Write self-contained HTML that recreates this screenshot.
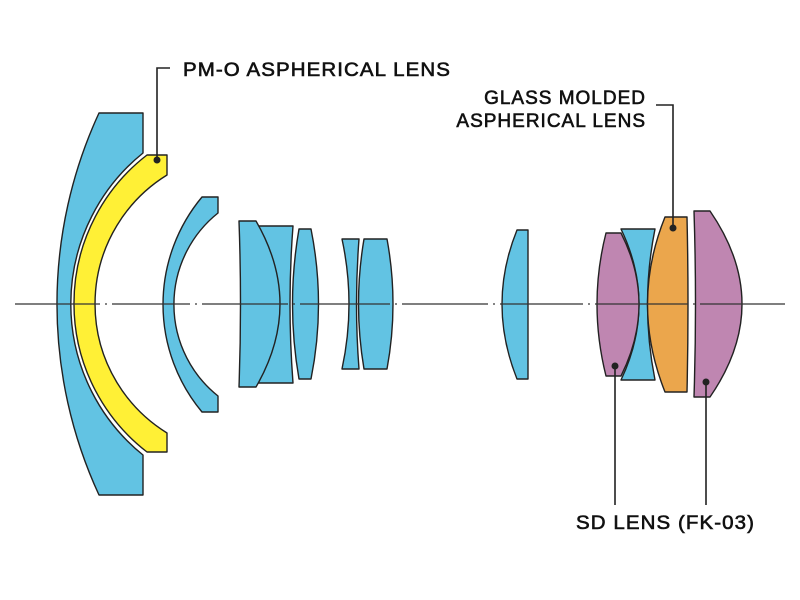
<!DOCTYPE html>
<html><head><style>html,body{margin:0;padding:0;background:#fff}svg{display:block}</style></head>
<body>
<svg width="800" height="600" viewBox="0 0 800 600" xmlns="http://www.w3.org/2000/svg">
<g stroke="#222" stroke-width="1.4" stroke-linejoin="round">
<path d="M99,113 L143,113 L143,153 A194 194 0 0 0 143,455 L143,495 L99,495 A455 455 0 0 1 99,113 Z" fill="#62c3e3"/>
<path d="M147,155 L167,155 L167,175 A151.6 151.6 0 0 0 167,433 L167,452 L147,452 A187.5 187.5 0 0 1 147,155 Z" fill="#fff036"/>
<path d="M202,197 L218,197 L218,213 A117 117 0 0 0 218,396 L218,412 L202,412 A167.7 167.7 0 0 1 202,197 Z" fill="#62c3e3"/>
<path d="M258,226 L293,226 Q287,304 293,383 L258,383 Q300,304 258,226 Z" fill="#62c3e3"/>
<path d="M239,221 L256,221 Q304,304 256,387 L239,387 Q242,304 239,221 Z" fill="#62c3e3"/>
<path d="M299,229 L311,229 Q326,304 311,379 L299,379 Q286,304 299,229 Z" fill="#62c3e3"/>
<path d="M342,239 L359,239 Q354,304 359,369 L342,369 Q356,304 342,239 Z" fill="#62c3e3"/>
<path d="M364,239 L387,239 Q399,304 387,369 L364,369 Q353,304 364,239 Z" fill="#62c3e3"/>
<path d="M517,230 L528,230 L528,379 L517,379 Q487,304 517,230 Z" fill="#62c3e3"/>
<path d="M621,229 L655,229 Q640,304 655,380 L621,380 Q657,304 621,229 Z" fill="#62c3e3"/>
<path d="M606,233 L621,233 Q657,304 621,376 L606,376 Q588,304 606,233 Z" fill="#bf86b1"/>
<path d="M665,217 L687,217 Q689,304 687,392 L665,392 Q630,304 665,217 Z" fill="#eba64c"/>
<path d="M694,211 L710,211 Q774,304 710,397 L694,397 Q697,304 694,211 Z" fill="#bf86b1"/>
</g>
<g stroke="#333" stroke-width="1.2">
<line x1="15" y1="304" x2="100" y2="304"/>
<line x1="105" y1="304" x2="107" y2="304"/>
<line x1="112" y1="304" x2="190" y2="304"/>
<line x1="195" y1="304" x2="197" y2="304"/>
<line x1="202" y1="304" x2="288" y2="304"/>
<line x1="293" y1="304" x2="295" y2="304"/>
<line x1="300" y1="304" x2="390" y2="304"/>
<line x1="395" y1="304" x2="397" y2="304"/>
<line x1="402" y1="304" x2="488" y2="304"/>
<line x1="493" y1="304" x2="495" y2="304"/>
<line x1="500" y1="304" x2="583" y2="304"/>
<line x1="588" y1="304" x2="590" y2="304"/>
<line x1="595" y1="304" x2="688" y2="304"/>
<line x1="693" y1="304" x2="695" y2="304"/>
<line x1="700" y1="304" x2="785" y2="304"/>
</g>
<g stroke="#222" stroke-width="1.6" fill="none">
<polyline points="157,160 157,68 170,68"/>
<polyline points="673,228 673,105 656,105"/>
<line x1="615" y1="366" x2="615" y2="505"/>
<line x1="706" y1="382" x2="706" y2="505"/>
</g>
<g fill="#222">
<circle cx="157" cy="160" r="3.5"/>
<circle cx="673" cy="228" r="3.5"/>
<circle cx="615" cy="366" r="3.5"/>
<circle cx="706" cy="382" r="3.5"/>
</g>
<g font-family="Liberation Sans, sans-serif" font-size="19" fill="#111" stroke="#111" stroke-width="0.6" letter-spacing="1">
<text x="183" y="76" textLength="268" lengthAdjust="spacingAndGlyphs">PM-O ASPHERICAL LENS</text>
<text x="646" y="104" text-anchor="end">GLASS MOLDED</text>
<text x="646" y="127" text-anchor="end">ASPHERICAL LENS</text>
<text x="576" y="529" textLength="179" lengthAdjust="spacingAndGlyphs">SD LENS (FK-03)</text>
</g>
</svg>
</body></html>
